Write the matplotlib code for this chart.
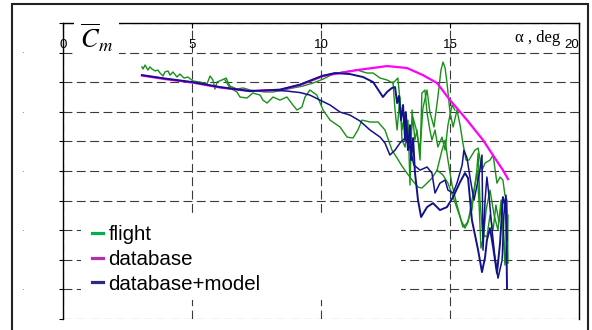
import matplotlib
matplotlib.use("Agg")
import matplotlib.pyplot as plt
from matplotlib.lines import Line2D
from matplotlib.patches import Rectangle

plt.rcParams['mathtext.fontset'] = 'stix'

# ---------------- data (alpha in deg, Cm) ----------------
db_alpha = [3.06, 3.95, 5.00, 6.09, 7.25, 8.41, 9.19, 10.08, 11.40, 12.56, 13.33, 13.95,
            14.50, 15.00, 15.66, 16.28, 16.74, 17.05, 17.25]
db_cm = [-0.0355, -0.0379, -0.0402, -0.0436, -0.0460, -0.0453, -0.0419, -0.0358, -0.0318,
         -0.0291, -0.0304, -0.0352, -0.0406, -0.0521, -0.0656, -0.0791, -0.0913, -0.0994, -0.1055]

model1_alpha = [3.06, 3.95, 5.00, 6.09, 7.25, 8.41, 9.19, 10.04, 10.54, 11.12, 11.63, 12.02,
                12.40, 12.56, 12.75, 12.87, 12.95, 13.02, 13.10, 13.18, 13.26, 13.29, 13.37,
                13.45, 13.49, 13.57, 13.64, 13.76, 13.88, 14.11, 14.34, 14.61, 14.88, 15.12,
                15.39, 15.58, 15.70, 15.85, 15.97, 16.09, 16.24, 16.36, 16.43, 16.55, 16.67,
                16.82, 16.94, 17.05, 17.17, 17.21]
model1_cm = [-0.0352, -0.0375, -0.0399, -0.0433, -0.0460, -0.0450, -0.0416, -0.0358, -0.0338,
             -0.0345, -0.0365, -0.0399, -0.0500, -0.0466, -0.0439, -0.0433, -0.0541, -0.0493,
             -0.0656, -0.0554, -0.0791, -0.0602, -0.0859, -0.0690, -0.0926, -0.0777, -0.1007,
             -0.1197, -0.1311, -0.1244, -0.1217, -0.1264, -0.1244, -0.1176, -0.1075, -0.1014,
             -0.1048, -0.1332, -0.1433, -0.1535, -0.1683, -0.1582, -0.1467, -0.1386, -0.1514,
             -0.1690, -0.1487, -0.1176, -0.1244, -0.1791]

model2_alpha = [8.14, 8.68, 9.19, 9.57, 9.96, 10.35, 10.74, 11.12, 11.51, 11.90, 12.29, 12.48,
                12.67, 12.87, 13.06, 13.26, 13.45, 13.60, 13.84, 14.11, 14.30, 14.42, 14.61,
                14.81, 14.92, 15.12, 15.27, 15.47, 15.54, 15.66, 15.78, 15.93, 16.05, 16.16,
                16.24, 16.28, 16.36, 16.43, 16.51, 16.63, 16.74, 16.86, 17.02, 17.09, 17.17,
                17.21]
model2_cm = [-0.0453, -0.0460, -0.0470, -0.0487, -0.0521, -0.0554, -0.0602, -0.0622, -0.0662,
             -0.0723, -0.0771, -0.0811, -0.0892, -0.0859, -0.0811, -0.0777, -0.0845, -0.0960,
             -0.0994, -0.0973, -0.1014, -0.1149, -0.1082, -0.1061, -0.1129, -0.1149, -0.1082,
             -0.0960, -0.0859, -0.0913, -0.1048, -0.1197, -0.1095, -0.0994, -0.0892, -0.1535,
             -0.1197, -0.1041, -0.1163, -0.1399, -0.1582, -0.1724, -0.1602, -0.1298, -0.1163,
             -0.1467]

flight1_alpha = [3.06, 3.10, 3.18, 3.29, 3.37, 3.45, 3.57, 3.68, 3.76, 3.88, 3.95, 4.07, 4.15,
                 4.26, 4.42, 4.53, 4.69, 4.84, 5.04, 5.31, 5.58, 5.70, 5.81, 5.89, 5.97, 6.16,
                 6.32, 6.47, 6.74, 6.98, 7.25, 7.52, 7.83, 8.14, 8.53, 8.91, 9.30, 9.69, 10.08,
                 10.47, 10.85, 11.40, 11.78, 12.02, 12.29, 12.56, 12.79, 12.98, 13.06, 13.14,
                 13.26, 13.37, 13.45, 13.57, 13.68, 13.84, 13.95, 14.11, 14.22, 14.38, 14.53,
                 14.65, 14.73, 14.81, 14.88, 15.00, 15.12, 15.27, 15.39, 15.50, 15.62, 15.74,
                 15.85, 15.97, 16.09, 16.24, 16.36, 16.55, 16.67, 16.82, 16.94, 17.05, 17.13,
                 17.21, 17.25]
flight1_cm = [-0.0297, -0.0311, -0.0284, -0.0318, -0.0297, -0.0311, -0.0324, -0.0318, -0.0338,
              -0.0358, -0.0331, -0.0324, -0.0352, -0.0331, -0.0365, -0.0345, -0.0372, -0.0365,
              -0.0392, -0.0399, -0.0412, -0.0358, -0.0385, -0.0446, -0.0399, -0.0385, -0.0372,
              -0.0426, -0.0446, -0.0439, -0.0453, -0.0460, -0.0466, -0.0466, -0.0453, -0.0439,
              -0.0426, -0.0406, -0.0379, -0.0345, -0.0331, -0.0318, -0.0338, -0.0338, -0.0372,
              -0.0385, -0.0406, -0.0372, -0.0521, -0.0723, -0.0608, -0.0703, -0.0791, -0.0642,
              -0.0710, -0.0859, -0.0575, -0.0453, -0.0602, -0.0703, -0.0500, -0.0318, -0.0264,
              -0.0304, -0.0399, -0.0602, -0.0703, -0.0588, -0.0690, -0.0811, -0.0926, -0.0926,
              -0.0892, -0.0859, -0.0845, -0.0994, -0.0946, -0.0926, -0.0892, -0.1082, -0.1041,
              -0.1061, -0.1163, -0.1197, -0.1622]

flight2_alpha = [6.28, 6.47, 6.74, 6.86, 7.13, 7.36, 7.64, 7.75, 7.91, 8.14, 8.41, 8.68, 8.91,
                 9.07, 9.26, 9.38, 9.57, 9.84, 10.08, 10.35, 10.74, 11.01, 11.24, 11.43, 11.59,
                 11.90, 12.21, 12.48, 12.75, 12.95, 13.14, 13.33, 13.53, 13.76, 13.91, 14.11,
                 14.30, 14.50, 14.69, 14.81, 14.92, 15.08, 15.27, 15.43, 15.58, 15.70, 15.85,
                 16.01, 16.09, 16.16, 16.28, 16.40, 16.55, 16.71, 16.86, 16.98, 17.13, 17.21]
flight2_cm = [-0.0385, -0.0439, -0.0466, -0.0500, -0.0507, -0.0473, -0.0487, -0.0521, -0.0541,
              -0.0500, -0.0521, -0.0500, -0.0554, -0.0588, -0.0568, -0.0500, -0.0453, -0.0487,
              -0.0588, -0.0656, -0.0703, -0.0771, -0.0777, -0.0723, -0.0656, -0.0669, -0.0669,
              -0.0723, -0.0859, -0.0913, -0.0967, -0.1014, -0.1061, -0.1109, -0.1115, -0.1082,
              -0.1048, -0.0994, -0.0859, -0.0791, -0.0926, -0.1095, -0.1230, -0.1332, -0.1386,
              -0.1345, -0.1197, -0.1061, -0.0879, -0.1197, -0.1467, -0.1264, -0.1129, -0.1298,
              -0.1399, -0.1197, -0.1636, -0.1467]

flight3_alpha = [14.50, 14.73, 14.92, 15.12, 15.39, 15.50, 15.66, 15.85, 15.97, 16.05, 16.12,
                 16.20, 16.32, 16.43, 16.55, 16.67, 16.78, 16.90, 17.02, 17.13, 17.21, 17.25]
flight3_cm = [-0.0994, -0.1028, -0.1082, -0.1176, -0.1311, -0.1379, -0.1352, -0.1264, -0.1082,
              -0.0994, -0.1197, -0.1521, -0.1433, -0.1447, -0.1298, -0.1399, -0.1230, -0.1345,
              -0.1197, -0.1589, -0.1622, -0.1298]

flight4_alpha = [12.79, 12.87, 12.95, 13.06, 13.14, 13.26, 13.37, 13.45, 13.53, 13.64, 13.72,
                 13.84, 13.91, 14.03, 14.11, 14.22, 14.30, 14.42, 14.53, 14.69, 14.81, 14.92,
                 15.08, 15.19]
flight4_cm = [-0.0399, -0.0588, -0.0723, -0.0500, -0.0791, -0.0838, -0.0656, -0.1095, -0.0588,
              -0.0791, -0.0723, -0.0926, -0.0473, -0.0453, -0.0608, -0.0723, -0.0791, -0.0723,
              -0.0838, -0.0771, -0.0859, -0.0690, -0.0554, -0.0588]

x_ticks = [0, 5, 10, 15, 20]
x_tick_labels = ['0', '5', '10', '15', '20']
legend_labels = ['flight', 'database', 'database+model']

# ---------------- figure ----------------
W, H = 592, 330
fig = plt.figure(figsize=(W / 100, H / 100), dpi=100)
fig.patch.set_facecolor('white')
ax = fig.add_axes([63 / W, 11 / H, 516 / W, 296 / H])
ax.set_xlim(0, 20)
ax.set_ylim(-0.2, 0)

green = '#179017'
navy = '#12128a'
magenta = '#ff00ff'

for a, c in [(flight1_alpha, flight1_cm), (flight2_alpha, flight2_cm),
             (flight3_alpha, flight3_cm), (flight4_alpha, flight4_cm)]:
    ax.plot(a, c, color=green, lw=1.0, zorder=3)
ax.plot(db_alpha, db_cm, color=magenta, lw=1.6, zorder=3.5)
ax.plot(model2_alpha, model2_cm, color=navy, lw=1.1, zorder=4)
ax.plot(model1_alpha, model1_cm, color=navy, lw=1.4, zorder=4)

# grid
ax.set_xticks(x_ticks)
ax.set_xticklabels(x_tick_labels)
ax.set_yticks([-0.2 + 0.02 * k for k in range(11)])
ax.grid(True, color='#3a3a3a', linestyle=(0, (8, 4)), linewidth=0.8)
ax.set_axisbelow(True)

ax.xaxis.tick_top()
ax.tick_params(axis='x', top=True, bottom=False, labeltop=True, labelbottom=False,
               direction='in', length=3.6, width=0.8, pad=-20, labelsize=9.5)
for lab in ax.get_xticklabels():
    lab.set_family('Liberation Sans')
ax.xaxis.get_major_ticks()[-1].label2.set_ha('right')
ax.tick_params(axis='y', left=True, right=False, labelleft=False, direction='out',
               length=3, width=0.8)

ax.spines['bottom'].set_visible(False)
for s in ['left', 'top', 'right']:
    ax.spines[s].set_linewidth(1.0)
    ax.spines[s].set_color('black')

# white area behind legend
ax.add_patch(Rectangle((0.035, 0.064), 0.62, 0.291, transform=ax.transAxes,
                       facecolor='white', edgecolor='none', zorder=1.8))

handles = [Line2D([], [], color='#00b050', lw=2.3),
           Line2D([], [], color='#b030b0', lw=2.3),
           Line2D([], [], color='#2a2a80', lw=2.3)]
leg = ax.legend(handles, legend_labels, loc='upper left',
                bbox_to_anchor=(92 / W, 1 - 225 / H), bbox_transform=fig.transFigure,
                frameon=False, borderpad=0, borderaxespad=0, handlelength=0.55,
                handletextpad=0.25, labelspacing=0.28,
                prop={'family': 'Liberation Sans', 'size': 14.8})
leg.set_zorder(6)

# axis labels
fig.text(80 / W, 1 - 48 / H, r'$\overline{C}_m$', fontsize=19, ha='left', va='baseline',
         bbox=dict(facecolor='white', edgecolor='none', pad=4), zorder=10)
fig.text(515 / W, 1 - 42 / H, 'α , deg', fontsize=12, family='Liberation Serif',
         ha='left', va='baseline',
         bbox=dict(facecolor='white', edgecolor='none', pad=3.5), zorder=10)

# residual marks of cropped y labels
for yp in [53, 113, 172, 231, 290]:
    fig.text(22 / W, 1 - yp / H, '.', fontsize=6, ha='center', va='baseline', color='#444444')

# outer frame
fig.add_artist(Rectangle((12 / W, -0.05), 576 / W, 1 - 4 / H + 0.05, transform=fig.transFigure,
                         fill=False, edgecolor='#222222', lw=1.5, clip_on=False))

fig.savefig('out.png', dpi=100)
